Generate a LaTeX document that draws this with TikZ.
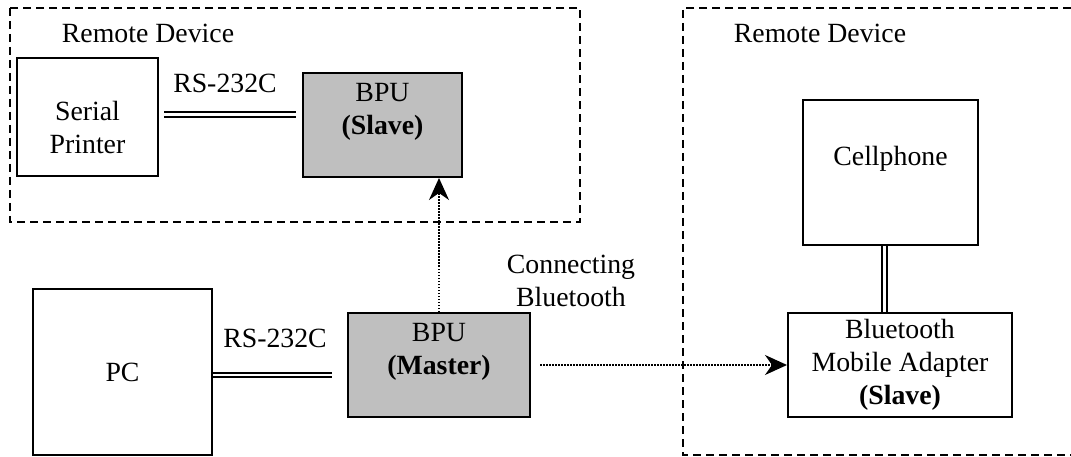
\documentclass[tikz,border=0pt]{standalone}
\usepackage{fontspec}
\setmainfont{Liberation Serif}
\usetikzlibrary{arrows.meta}
\begin{document}
\begin{tikzpicture}[x=1pt, y=-1pt,
        every node/.style={font=\fontsize{27.8}{33}\selectfont},
        unit/.style={draw, line width=2pt, align=center, inner sep=0pt},
        bpu/.style={unit, fill=bpugray},
        cable/.style={double, double distance=2.6pt, line width=1.8pt},
        radio/.style={line width=1.5pt, dash pattern=on 1.5pt off 1.5pt, -{Stealth[length=22pt, width=20pt, inset=7pt]}},
        area/.style={line width=1.8pt, dash pattern=on 8pt off 5pt}]
                \colorlet{bpugray}{black!25}
                \useasboundingbox (0,0) rectangle (1071,457);

                % remote device areas
                \draw [area] (10,8) rectangle (580,222);
                \draw [area] (1071,8) -- (683,8) -- (683,455) -- (1071,455);
                \node (remoteA) at (148,33) {Remote Device};
                \node (remoteB) at (820,33) {Remote Device};

                % units
                \node [unit, minimum width=141pt, minimum height=118pt] (printer) at (87.5,117.5) {\rule{0pt}{40pt}Serial\\Printer};
                \node [bpu, minimum width=159pt, minimum height=104pt] (slave) at (382.5,125) {BPU\\\textbf{(Slave)}\\\mbox{}};
                \node [unit, minimum width=179pt, minimum height=166pt] (pc) at (122.5,372) {PC};
                \node [bpu, minimum width=182pt, minimum height=104pt] (master) at (439,365) {BPU\\\textbf{(Master)}\\\mbox{}};
                \node [unit, minimum width=175pt, minimum height=145pt] (cell) at (890.5,172.5) {Cellphone\\\mbox{}};
                \node [unit, minimum width=224pt, minimum height=104pt] (adapter) at (900,365) {Bluetooth\\Mobile Adapter\\\textbf{(Slave)}};

                % serial links
                \node (rsA) at (225,83) {RS-232C};
                \node (rsB) at (275,338) {RS-232C};
                \draw [cable] ([xshift=5pt, yshift=3pt]printer.east) -- ([xshift=-6pt, yshift=3pt]slave.west |- printer.east);
                \draw [cable] ([yshift=-3pt]pc.east) -- ([xshift=-15pt, yshift=-3pt]master.west |- pc.east);
                \draw [cable] ([xshift=-6pt]cell.south) -- ([xshift=-6pt]cell.south |- adapter.north);

                % bluetooth links
                \node [align=center] (bt) at (571,281) {Connecting\\Bluetooth};
                \draw [radio] (master.north) -- (master.north |- slave.south);
                \draw [radio] ([xshift=9pt]master.east) -- (adapter.west);
            \end{tikzpicture}
\end{document}
